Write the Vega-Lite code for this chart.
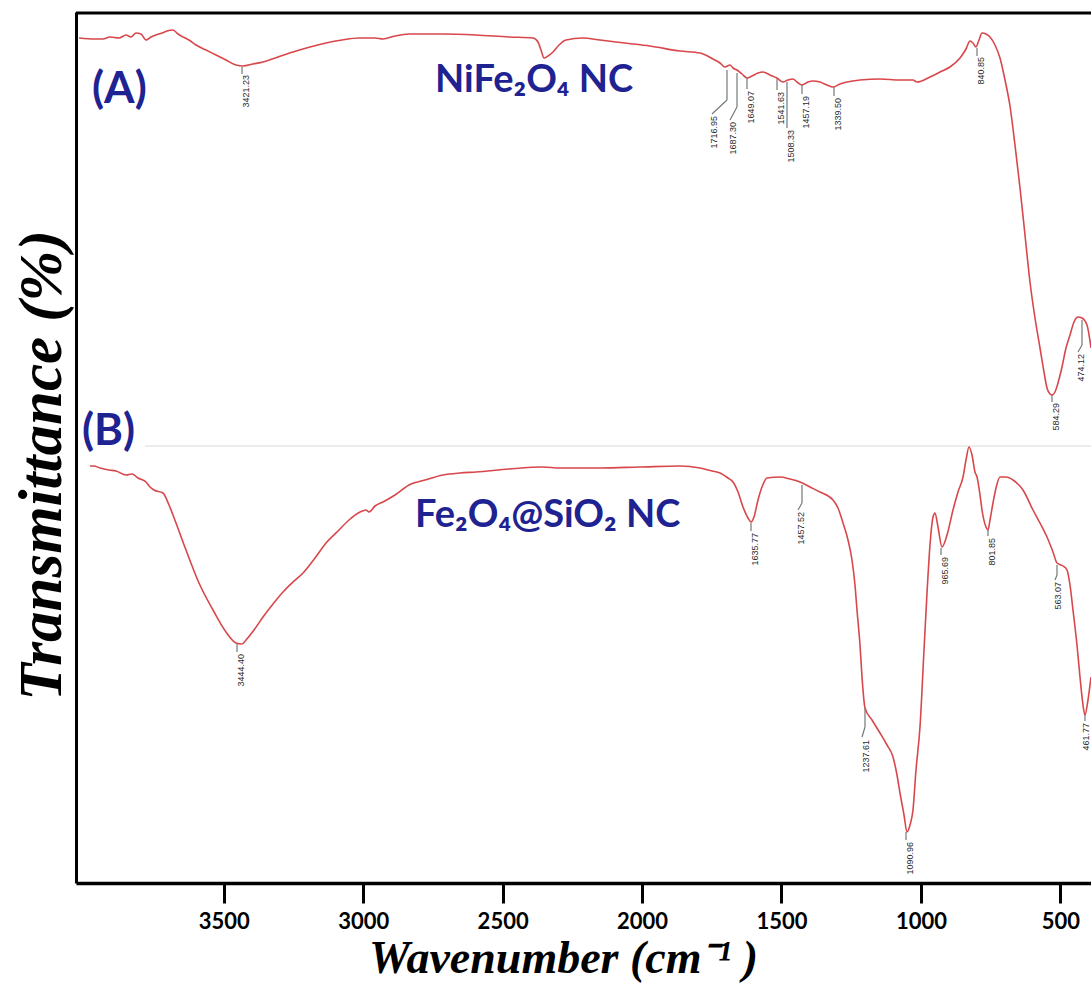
{
  "$schema": "https://vega.github.io/schema/vega-lite/v6.json",
  "width": 1015,
  "height": 871,
  "autosize": {"type": "none"},
  "padding": {"left": 76, "top": 12, "right": 0, "bottom": 100},
  "background": "white",
  "config": {
    "view": {"stroke": null},
    "axisX": {
      "grid": false, "domainColor": "black", "domainWidth": 3.5, "tickColor": "black", "tickWidth": 3, "tickSize": 20,
      "labelFont": "Lato", "labelFontWeight": "bold", "labelFontSize": 22, "labelColor": "black", "labelPadding": 8,
      "titleFont": "Liberation Serif", "titleFontStyle": "italic", "titleFontWeight": "bold", "titleFontSize": 46, "titleColor": "black",
      "titleX": 487, "titleY": 89, "titleAlign": "center", "titleBaseline": "alphabetic"
    },
    "axisY": {
      "grid": false, "ticks": false, "labels": false, "domainColor": "black", "domainWidth": 3,
      "titleFont": "Liberation Serif", "titleFontStyle": "italic", "titleFontWeight": "bold", "titleFontSize": 61, "titleColor": "black",
      "titleAngle": 270, "titleX": -34, "titleY": 453, "titleAlign": "center", "titleBaseline": "middle"
    }
  },
  "datasets": {
    "spectra": [
      {"sample":"A","wn":4019.2,"t":845},{"sample":"A","wn":3961.9,"t":844},{"sample":"A","wn":3933.2,"t":844},{"sample":"A","wn":3908.1,"t":846},{"sample":"A","wn":3875.8,"t":845},{"sample":"A","wn":3850.7,"t":848},{"sample":"A","wn":3832.8,"t":846},{"sample":"A","wn":3814.8,"t":850},{"sample":"A","wn":3796.9,"t":849},{"sample":"A","wn":3779.0,"t":843},{"sample":"A","wn":3761.0,"t":846},{"sample":"A","wn":3743.1,"t":848},{"sample":"A","wn":3721.6,"t":850},{"sample":"A","wn":3703.7,"t":852},{"sample":"A","wn":3682.1,"t":853},{"sample":"A","wn":3664.2,"t":849},{"sample":"A","wn":3646.3,"t":846},{"sample":"A","wn":3624.8,"t":843},{"sample":"A","wn":3599.7,"t":838},{"sample":"A","wn":3563.8,"t":833},{"sample":"A","wn":3527.9,"t":828},{"sample":"A","wn":3492.1,"t":823},{"sample":"A","wn":3456.2,"t":818},{"sample":"A","wn":3431.1,"t":817},{"sample":"A","wn":3395.2,"t":819},{"sample":"A","wn":3359.4,"t":821},{"sample":"A","wn":3305.6,"t":826},{"sample":"A","wn":3251.8,"t":831},{"sample":"A","wn":3190.8,"t":836},{"sample":"A","wn":3133.4,"t":840},{"sample":"A","wn":3076.1,"t":843},{"sample":"A","wn":3015.1,"t":845},{"sample":"A","wn":2957.7,"t":845},{"sample":"A","wn":2929.0,"t":844},{"sample":"A","wn":2886.0,"t":847},{"sample":"A","wn":2835.8,"t":849},{"sample":"A","wn":2713.9,"t":849},{"sample":"A","wn":2595.5,"t":848},{"sample":"A","wn":2477.2,"t":846},{"sample":"A","wn":2391.1,"t":845},{"sample":"A","wn":2373.2,"t":841},{"sample":"A","wn":2362.4,"t":833},{"sample":"A","wn":2351.7,"t":825},{"sample":"A","wn":2337.3,"t":827},{"sample":"A","wn":2319.4,"t":831},{"sample":"A","wn":2297.9,"t":838},{"sample":"A","wn":2272.8,"t":843},{"sample":"A","wn":2211.8,"t":845},{"sample":"A","wn":2150.8,"t":843},{"sample":"A","wn":2061.2,"t":840},{"sample":"A","wn":1971.5,"t":837},{"sample":"A","wn":1863.9,"t":832},{"sample":"A","wn":1792.2,"t":830},{"sample":"A","wn":1745.6,"t":824},{"sample":"A","wn":1720.5,"t":820},{"sample":"A","wn":1702.6,"t":816},{"sample":"A","wn":1684.6,"t":818},{"sample":"A","wn":1673.9,"t":815},{"sample":"A","wn":1659.5,"t":813},{"sample":"A","wn":1641.6,"t":809},{"sample":"A","wn":1623.7,"t":805},{"sample":"A","wn":1605.7,"t":807},{"sample":"A","wn":1584.2,"t":810},{"sample":"A","wn":1566.3,"t":811},{"sample":"A","wn":1541.2,"t":808},{"sample":"A","wn":1516.1,"t":805},{"sample":"A","wn":1494.6,"t":801},{"sample":"A","wn":1476.6,"t":803},{"sample":"A","wn":1458.7,"t":804},{"sample":"A","wn":1444.4,"t":801},{"sample":"A","wn":1426.4,"t":798},{"sample":"A","wn":1404.9,"t":801},{"sample":"A","wn":1387.0,"t":802},{"sample":"A","wn":1361.9,"t":801},{"sample":"A","wn":1336.8,"t":798},{"sample":"A","wn":1315.2,"t":796},{"sample":"A","wn":1290.1,"t":799},{"sample":"A","wn":1265.0,"t":801},{"sample":"A","wn":1218.4,"t":803},{"sample":"A","wn":1146.7,"t":804},{"sample":"A","wn":1075.0,"t":803},{"sample":"A","wn":1028.4,"t":803},{"sample":"A","wn":1014.0,"t":801},{"sample":"A","wn":967.4,"t":806},{"sample":"A","wn":931.5,"t":811},{"sample":"A","wn":895.7,"t":816},{"sample":"A","wn":859.8,"t":825},{"sample":"A","wn":838.3,"t":834},{"sample":"A","wn":823.9,"t":842},{"sample":"A","wn":813.2,"t":840},{"sample":"A","wn":802.4,"t":836},{"sample":"A","wn":791.7,"t":843},{"sample":"A","wn":780.9,"t":850},{"sample":"A","wn":766.6,"t":849},{"sample":"A","wn":752.2,"t":846},{"sample":"A","wn":734.3,"t":838},{"sample":"A","wn":716.4,"t":825},{"sample":"A","wn":698.4,"t":803},{"sample":"A","wn":680.5,"t":777},{"sample":"A","wn":662.6,"t":738},{"sample":"A","wn":644.6,"t":695},{"sample":"A","wn":626.7,"t":648},{"sample":"A","wn":608.8,"t":601},{"sample":"A","wn":590.8,"t":565},{"sample":"A","wn":572.9,"t":535},{"sample":"A","wn":558.6,"t":511},{"sample":"A","wn":547.8,"t":495},{"sample":"A","wn":537.1,"t":489},{"sample":"A","wn":529.9,"t":488},{"sample":"A","wn":519.1,"t":491},{"sample":"A","wn":508.4,"t":500},{"sample":"A","wn":494.0,"t":516},{"sample":"A","wn":479.7,"t":535},{"sample":"A","wn":465.3,"t":548},{"sample":"A","wn":451.0,"t":561},{"sample":"A","wn":436.6,"t":566},{"sample":"A","wn":422.3,"t":565},{"sample":"A","wn":404.4,"t":558},{"sample":"A","wn":390.0,"t":535},
      {"sample":"B","wn":3979.8,"t":417},{"sample":"B","wn":3965.4,"t":417},{"sample":"B","wn":3943.9,"t":415},{"sample":"B","wn":3911.7,"t":413},{"sample":"B","wn":3886.6,"t":412},{"sample":"B","wn":3850.7,"t":408},{"sample":"B","wn":3829.2,"t":409},{"sample":"B","wn":3807.7,"t":405},{"sample":"B","wn":3779.0,"t":401},{"sample":"B","wn":3764.6,"t":396},{"sample":"B","wn":3750.3,"t":393},{"sample":"B","wn":3718.0,"t":390},{"sample":"B","wn":3696.5,"t":378},{"sample":"B","wn":3671.4,"t":360},{"sample":"B","wn":3635.5,"t":333},{"sample":"B","wn":3588.9,"t":300},{"sample":"B","wn":3538.7,"t":273},{"sample":"B","wn":3492.1,"t":251},{"sample":"B","wn":3456.2,"t":240},{"sample":"B","wn":3434.7,"t":239},{"sample":"B","wn":3420.3,"t":243},{"sample":"B","wn":3391.7,"t":253},{"sample":"B","wn":3359.4,"t":266},{"sample":"B","wn":3323.5,"t":279},{"sample":"B","wn":3287.7,"t":291},{"sample":"B","wn":3251.8,"t":301},{"sample":"B","wn":3215.9,"t":310},{"sample":"B","wn":3172.9,"t":325},{"sample":"B","wn":3133.4,"t":340},{"sample":"B","wn":3090.4,"t":352},{"sample":"B","wn":3051.0,"t":363},{"sample":"B","wn":3011.5,"t":371},{"sample":"B","wn":2990.0,"t":373},{"sample":"B","wn":2979.2,"t":371},{"sample":"B","wn":2957.7,"t":377},{"sample":"B","wn":2929.0,"t":381},{"sample":"B","wn":2886.0,"t":388},{"sample":"B","wn":2835.8,"t":398},{"sample":"B","wn":2778.4,"t":403},{"sample":"B","wn":2713.9,"t":408},{"sample":"B","wn":2652.9,"t":410},{"sample":"B","wn":2595.5,"t":411},{"sample":"B","wn":2477.2,"t":414},{"sample":"B","wn":2355.2,"t":416},{"sample":"B","wn":2294.3,"t":415},{"sample":"B","wn":2150.8,"t":415},{"sample":"B","wn":2007.4,"t":416},{"sample":"B","wn":1863.9,"t":417},{"sample":"B","wn":1792.2,"t":415},{"sample":"B","wn":1749.2,"t":412},{"sample":"B","wn":1720.5,"t":410},{"sample":"B","wn":1691.8,"t":405},{"sample":"B","wn":1673.9,"t":401},{"sample":"B","wn":1655.9,"t":391},{"sample":"B","wn":1638.0,"t":376},{"sample":"B","wn":1620.1,"t":365},{"sample":"B","wn":1609.3,"t":361},{"sample":"B","wn":1598.6,"t":366},{"sample":"B","wn":1584.2,"t":383},{"sample":"B","wn":1569.9,"t":396},{"sample":"B","wn":1551.9,"t":405},{"sample":"B","wn":1505.3,"t":406},{"sample":"B","wn":1469.5,"t":404},{"sample":"B","wn":1433.6,"t":401},{"sample":"B","wn":1397.7,"t":396},{"sample":"B","wn":1361.9,"t":391},{"sample":"B","wn":1315.2,"t":383},{"sample":"B","wn":1297.3,"t":375},{"sample":"B","wn":1279.4,"t":360},{"sample":"B","wn":1261.4,"t":343},{"sample":"B","wn":1247.1,"t":323},{"sample":"B","wn":1236.4,"t":298},{"sample":"B","wn":1229.2,"t":273},{"sample":"B","wn":1218.4,"t":238},{"sample":"B","wn":1211.2,"t":206},{"sample":"B","wn":1200.5,"t":175},{"sample":"B","wn":1175.4,"t":163},{"sample":"B","wn":1146.7,"t":150},{"sample":"B","wn":1121.6,"t":138},{"sample":"B","wn":1100.1,"t":126},{"sample":"B","wn":1085.7,"t":108},{"sample":"B","wn":1075.0,"t":90},{"sample":"B","wn":1060.6,"t":68},{"sample":"B","wn":1049.9,"t":51},{"sample":"B","wn":1039.1,"t":58},{"sample":"B","wn":1028.4,"t":73},{"sample":"B","wn":1017.6,"t":113},{"sample":"B","wn":1003.3,"t":156},{"sample":"B","wn":988.9,"t":233},{"sample":"B","wn":978.1,"t":290},{"sample":"B","wn":967.4,"t":338},{"sample":"B","wn":956.6,"t":366},{"sample":"B","wn":949.5,"t":370},{"sample":"B","wn":938.7,"t":356},{"sample":"B","wn":924.4,"t":336},{"sample":"B","wn":906.4,"t":348},{"sample":"B","wn":884.9,"t":373},{"sample":"B","wn":867.0,"t":391},{"sample":"B","wn":849.0,"t":406},{"sample":"B","wn":838.3,"t":423},{"sample":"B","wn":827.5,"t":436},{"sample":"B","wn":816.8,"t":428},{"sample":"B","wn":806.0,"t":411},{"sample":"B","wn":798.8,"t":406},{"sample":"B","wn":788.0,"t":388},{"sample":"B","wn":780.9,"t":373},{"sample":"B","wn":766.6,"t":356},{"sample":"B","wn":759.4,"t":353},{"sample":"B","wn":752.2,"t":363},{"sample":"B","wn":741.5,"t":380},{"sample":"B","wn":730.7,"t":395},{"sample":"B","wn":716.4,"t":406},{"sample":"B","wn":694.8,"t":406},{"sample":"B","wn":669.7,"t":403},{"sample":"B","wn":633.9,"t":393},{"sample":"B","wn":598.0,"t":373},{"sample":"B","wn":572.9,"t":360},{"sample":"B","wn":547.8,"t":346},{"sample":"B","wn":526.3,"t":331},{"sample":"B","wn":511.9,"t":320},{"sample":"B","wn":490.4,"t":317},{"sample":"B","wn":476.1,"t":313},{"sample":"B","wn":465.3,"t":298},{"sample":"B","wn":454.6,"t":273},{"sample":"B","wn":440.2,"t":238},{"sample":"B","wn":429.5,"t":206},{"sample":"B","wn":418.7,"t":178},{"sample":"B","wn":411.6,"t":168},{"sample":"B","wn":400.8,"t":183},{"sample":"B","wn":390.0,"t":206}
    ],
    "leaders": [
      {"wn":3434.7,"wn2":3434.7,"t":816,"t2":809},
      {"wn":1695.4,"wn2":1695.4,"t":813,"t2":783},{"wn":1695.4,"wn2":1749.2,"t":783,"t2":769},
      {"wn":1659.5,"wn2":1659.5,"t":810,"t2":776},{"wn":1659.5,"wn2":1684.6,"t":776,"t2":763},
      {"wn":1623.7,"wn2":1623.7,"t":805,"t2":794},
      {"wn":1516.1,"wn2":1516.1,"t":804,"t2":793},
      {"wn":1480.2,"wn2":1480.2,"t":801,"t2":755},
      {"wn":1426.4,"wn2":1426.4,"t":798,"t2":789},
      {"wn":1311.7,"wn2":1311.7,"t":796,"t2":787},
      {"wn":798.8,"wn2":798.8,"t":835,"t2":827},
      {"wn":529.9,"wn2":529.9,"t":488,"t2":481},
      {"wn":422.3,"wn2":422.3,"t":563,"t2":538},{"wn":422.3,"wn2":436.6,"t":538,"t2":531},
      {"wn":3452.6,"wn2":3452.6,"t":239,"t2":231},
      {"wn":1609.3,"wn2":1609.3,"t":360,"t2":352},
      {"wn":1426.4,"wn2":1426.4,"t":398,"t2":380},{"wn":1426.4,"wn2":1440.8,"t":380,"t2":373},
      {"wn":1200.5,"wn2":1200.5,"t":175,"t2":156},{"wn":1200.5,"wn2":1211.2,"t":156,"t2":146},
      {"wn":1053.5,"wn2":1053.5,"t":51,"t2":43},
      {"wn":927.9,"wn2":927.9,"t":335,"t2":328},
      {"wn":759.4,"wn2":759.4,"t":353,"t2":347},
      {"wn":511.9,"wn2":511.9,"t":318,"t2":308},{"wn":511.9,"wn2":519.1,"t":308,"t2":303},
      {"wn":411.6,"wn2":411.6,"t":168,"t2":162}
    ],
    "peaks": [
      {"label":"3421.23","wn":3420.3,"t":808},
      {"label":"1716.95","wn":1742.0,"t":767},
      {"label":"1687.30","wn":1673.9,"t":761},
      {"label":"1649.07","wn":1609.3,"t":792},
      {"label":"1541.63","wn":1501.7,"t":791},
      {"label":"1508.33","wn":1465.9,"t":753},
      {"label":"1457.19","wn":1412.1,"t":787},
      {"label":"1339.50","wn":1297.3,"t":785},
      {"label":"840.85","wn":784.5,"t":826},
      {"label":"584.29","wn":515.5,"t":480},
      {"label":"474.12","wn":425.9,"t":529},
      {"label":"3444.40","wn":3438.3,"t":229},
      {"label":"1635.77","wn":1595.0,"t":350},
      {"label":"1457.52","wn":1430.0,"t":371},
      {"label":"1237.61","wn":1196.9,"t":143},
      {"label":"1090.96","wn":1039.1,"t":41},
      {"label":"965.69","wn":913.6,"t":326},
      {"label":"801.85","wn":745.0,"t":345},
      {"label":"563.07","wn":508.4,"t":301},
      {"label":"461.77","wn":408.5,"t":160}
    ],
    "panels": [
      {"label":"(A)","wn":3972.6,"t":793},
      {"label":"(B)","wn":4008.5,"t":451}
    ],
    "names": [
      {"label":"NiFe₂O₄ NC","wn":2742.6,"t":791},
      {"label":"Fe₂O₄@SiO₂ NC","wn":2814.3,"t":356}
    ],
    "separator": [
      {"wn":3782.6,"wn2":390,"t":437}
    ],
    "frame": [
      {"wn":4030,"wn2":390,"t":870}
    ]
  },
  "layer": [
    {
      "data": {"name": "separator"},
      "mark": {"type": "rule", "color": "#e6e6e6", "strokeWidth": 1.5},
      "encoding": {
        "x": {"field": "wn", "type": "quantitative", "title": "Wavenumber (cm⁻¹ )", "scale": {"domain": [390, 4030], "reverse": true, "nice": false, "zero": false}, "axis": {"values": [3500, 3000, 2500, 2000, 1500, 1000, 500], "format": "d"}},
        "x2": {"field": "wn2"},
        "y": {"field": "t", "type": "quantitative", "title": "Transmittance (%)", "scale": {"domain": [0, 871], "nice": false, "zero": false}}
      }
    },
    {
      "data": {"name": "spectra"},
      "mark": {"type": "line", "color": "#d8474b", "strokeWidth": 1.6, "interpolate": "monotone"},
      "encoding": {
        "x": {"field": "wn", "type": "quantitative", "title": "Wavenumber (cm⁻¹ )"},
        "y": {"field": "t", "type": "quantitative", "title": "Transmittance (%)"},
        "detail": {"field": "sample", "type": "nominal"}
      }
    },
    {
      "data": {"name": "leaders"},
      "mark": {"type": "rule", "color": "#707a7a", "strokeWidth": 1.2},
      "encoding": {
        "x": {"field": "wn", "type": "quantitative", "title": "Wavenumber (cm⁻¹ )"},
        "x2": {"field": "wn2"},
        "y": {"field": "t", "type": "quantitative", "title": "Transmittance (%)"},
        "y2": {"field": "t2"}
      }
    },
    {
      "data": {"name": "peaks"},
      "mark": {"type": "text", "angle": 270, "align": "right", "baseline": "middle", "font": "Liberation Sans", "fontSize": 9, "color": "#2a2a2a"},
      "encoding": {
        "x": {"field": "wn", "type": "quantitative", "title": "Wavenumber (cm⁻¹ )"},
        "y": {"field": "t", "type": "quantitative", "title": "Transmittance (%)"},
        "text": {"field": "label", "type": "nominal"}
      }
    },
    {
      "data": {"name": "panels"},
      "mark": {"type": "text", "align": "left", "baseline": "middle", "font": "Lato", "fontWeight": "bold", "fontSize": 44, "color": "#1f2391"},
      "encoding": {
        "x": {"field": "wn", "type": "quantitative", "title": "Wavenumber (cm⁻¹ )"},
        "y": {"field": "t", "type": "quantitative", "title": "Transmittance (%)"},
        "text": {"field": "label", "type": "nominal"}
      }
    },
    {
      "data": {"name": "names"},
      "mark": {"type": "text", "align": "left", "baseline": "alphabetic", "font": "Lato", "fontWeight": "bold", "fontSize": 38, "color": "#1f2391"},
      "encoding": {
        "x": {"field": "wn", "type": "quantitative", "title": "Wavenumber (cm⁻¹ )"},
        "y": {"field": "t", "type": "quantitative", "title": "Transmittance (%)"},
        "text": {"field": "label", "type": "nominal"}
      }
    },
    {
      "data": {"name": "frame"},
      "mark": {"type": "rule", "color": "black", "strokeWidth": 3, "clip": false},
      "encoding": {
        "x": {"field": "wn", "type": "quantitative", "title": "Wavenumber (cm⁻¹ )"},
        "x2": {"field": "wn2"},
        "y": {"field": "t", "type": "quantitative", "title": "Transmittance (%)"}
      }
    }
  ]
}
